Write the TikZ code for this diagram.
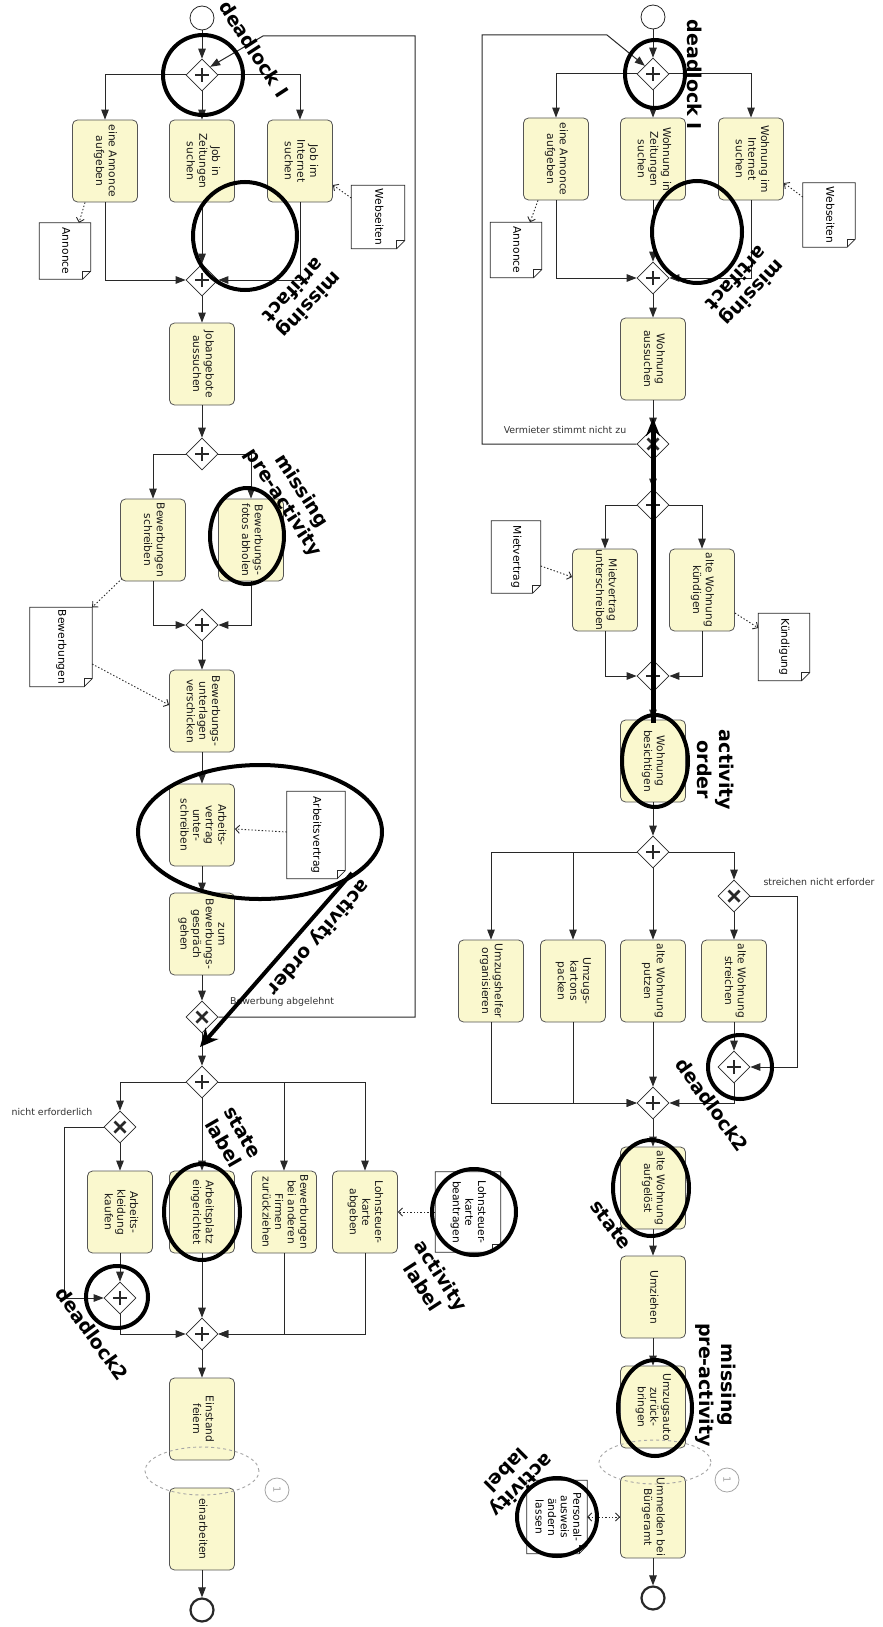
\documentclass[tikz,border=0pt]{standalone}
\usepackage{fontspec}
\setmainfont{DejaVu Sans}
\usetikzlibrary{shapes.geometric,arrows.meta,calc}
\definecolor{boxfill}{RGB}{250,248,206}
\definecolor{boxline}{RGB}{85,85,85}
\definecolor{flowc}{RGB}{40,40,40}
\definecolor{annog}{RGB}{165,165,165}
\newcommand\rt[1]{\rotatebox{-90}{\begin{tabular}{@{}c@{}}#1\end{tabular}}}
\newcommand\boxfont{\fontsize{10.7}{12.6}\selectfont}
\newcommand\docobj[6]{%
 \node[docn, minimum width=#4pt, minimum height=#5pt] (#1) at (#2,#3) {\rt{#6}};
 \draw[docl] (#1.north west) -- (#1.north east) -- ([yshift=8pt]#1.south east) -- ([xshift=-8pt]#1.south east) -- (#1.south west) -- cycle;
 \draw[docl] ([yshift=8pt]#1.south east) -- ([xshift=-8pt,yshift=8pt]#1.south east) -- ([xshift=-8pt]#1.south east);}
\begin{document}
\begin{tikzpicture}[x=1pt,y=-1pt,
 box/.style={draw=boxline, fill=boxfill, rounded corners=5pt, minimum width=65pt, minimum height=82pt, inner sep=0pt, line width=0.8pt, font=\boxfont, text=black!90},
 gw/.style={diamond, draw=flowc, fill=white, minimum width=32pt, minimum height=32pt, inner sep=0pt, line width=0.7pt},
 gwp/.style={gw, path picture={\draw[line width=2.2pt,flowc] ([xshift=-7pt]path picture bounding box.center) -- ([xshift=7pt]path picture bounding box.center) ([yshift=-7pt]path picture bounding box.center) -- ([yshift=7pt]path picture bounding box.center);}},
 gwx/.style={gw, path picture={\draw[line width=2.8pt,flowc] ([shift={(-5.5pt,-5.5pt)}]path picture bounding box.center) -- ([shift={(5.5pt,5.5pt)}]path picture bounding box.center) ([shift={(-5.5pt,5.5pt)}]path picture bounding box.center) -- ([shift={(5.5pt,-5.5pt)}]path picture bounding box.center);}},
 startn/.style={circle, draw=flowc, fill=white, line width=0.8pt, minimum size=24pt, inner sep=0pt},
 endn/.style={circle, draw=flowc, fill=white, line width=2.2pt, minimum size=23pt, inner sep=0pt},
 flow/.style={draw=flowc, line width=1pt, -{Triangle[length=10pt,width=7.5pt]}},
 assoc/.style={draw=flowc, line width=0.9pt, dash pattern=on 1.4pt off 2pt, -{Straight Barb[length=4pt,width=8pt]}},
 docn/.style={fill=white, inner sep=0pt, font=\boxfont},
 docl/.style={draw=flowc, line width=0.7pt},
 lbl/.style={font=\fontsize{9.4}{11}\selectfont, text=black!80, inner sep=0pt},
 hilite/.style={draw=black, line width=4pt},
 anno/.style={font=\fontsize{19}{22}\selectfont\bfseries, align=center, inner sep=0pt},
 grp/.style={draw=annog, dashed, line width=0.9pt},
 num/.style={circle, draw=annog, line width=0.8pt, minimum size=24pt, inner sep=0pt, text=annog, font=\fontsize{10}{12}\selectfont}
]
\useasboundingbox (0,0) rectangle (883,1627);
\fill[white] (0,0) rectangle (883,1627);

% ---------------- left process ----------------
\node[startn] (s1) at (202,18) {};
\node[gwp] (g1) at (202,75) {};
\node[box] (a1) at (105,161) {\rt{eine Annonce\\aufgeben}};
\node[box] (a2) at (202,161) {\rt{Job in\\Zeitungen\\suchen}};
\node[box] (a3) at (300,161) {\rt{Job im\\Internet\\suchen}};
\node[gwp] (g2) at (202,280) {};
\node[box] (a4) at (202,364) {\rt{Jobangebote\\aussuchen}};
\node[gwp] (g3) at (202,454) {};
\node[box] (a5) at (153,540) {\rt{Bewerbungen\\schreiben}};
\node[box] (a6) at (251,540) {\rt{Bewerbungs-\\fotos abholen}};
\node[gwp] (g4) at (202,625) {};
\node[box] (a7) at (202,711) {\rt{Bewerbungs-\\unterlagen\\verschicken}};
\node[box] (a8) at (202,825) {\rt{Arbeits-\\vertrag\\unter-\\schreiben}};
\node[box] (a9) at (202,934) {\rt{zum\\Bewerbungs-\\gespräch\\gehen}};
\node[gwx] (g5) at (202,1017) {};
\node[gwp] (g6) at (202,1082) {};
\node[gwx] (g7) at (120,1127) {};
\node[box] (a10) at (120,1212) {\rt{Arbeits-\\kleidung\\kaufen}};
\node[box] (a11) at (202,1212) {\rt{Arbeitsplatz\\eingerichtet}};
\node[box] (a12) at (284,1212) {\rt{Bewerbungen\\bei anderen\\Firmen\\zurückziehen}};
\node[box] (a13) at (365,1212) {\rt{Lohnsteuer-\\karte\\abgeben}};
\node[gwp] (g8) at (120,1298) {};
\node[gwp] (g9) at (202,1334) {};
\node[box] (a14) at (202,1419) {\rt{Einstand\\feiern}};
\node[box] (a15) at (202,1529) {\rt{einarbeiten}};
\node[endn] (e1) at (202,1610) {};

\docobj{dA1}{65}{251}{51}{56}{Annonce}
\docobj{dW1}{378}{217}{53}{63}{Webseiten}
\docobj{dB}{61}{647}{62}{79}{Bewerbungen}
\docobj{dAV}{316}{835}{58}{87}{Arbeitsvertrag}
\docobj{dL}{468}{1212}{65}{80}{Lohnsteuer-\\karte\\beantragen}

\draw[flow] (s1) -- (g1);
\draw[flow] (g1.west) -| (a1.north);
\draw[flow] (g1) -- (a2);
\draw[flow] (g1.east) -| (a3.north);
\draw[flow] (a1.south) |- (g2.west);
\draw[flow] (a2) -- (g2);
\draw[flow] (a3.south) |- (g2.east);
\draw[flow] (g2) -- (a4);
\draw[flow] (a4) -- (g3);
\draw[flow] (g3.west) -| (a5.north);
\draw[flow] (g3.east) -| (a6.north);
\draw[flow] (a5.south) |- (g4.west);
\draw[flow] (a6.south) |- (g4.east);
\draw[flow] (g4) -- (a7);
\draw[flow] (a7) -- (a8);
\draw[flow] (a8) -- (a9);
\draw[flow] (a9) -- (g5);
\draw[flow] (g5) -- (g6);
\coordinate (l1) at (415,1017);
\coordinate (l2) at (415,36);
\coordinate (l3) at (263,36);
\draw[flow] (g5.east) -- (l1) -- (l2) -- (l3) -- (g1.north east);
\node[lbl] (t1) at (282,1002) {Bewerbung abgelehnt};
\draw[flow] (g6.west) -| (g7.north);
\draw[flow] (g7) -- (a10);
\draw[flow] (a10) -- (g8);
\draw[flow] (g7.west) -- ++(-39,0) |- (g8.west);
\node[lbl] (t2) at (52,1112) {nicht erforderlich};
\draw[flow] (g6) -- (a11);
\draw[flow] (g6.east) -| (a12.north);
\draw[flow] (g6.east) -| (a13.north);
\draw[flow] (g8.south) |- (g9.west);
\draw[flow] (a11) -- (g9);
\draw[flow] (a12.south) |- (g9.east);
\draw[flow] (a13.south) |- (g9.east);
\draw[flow] (g9) -- (a14);
\draw[flow] (a15) -- (e1);

\draw[assoc] ([xshift=-20pt]a1.south) -- ([xshift=14pt]dA1.north);
\draw[assoc] ([yshift=19pt]dW1.west) -- ([yshift=-24pt]a3.east);
\draw[assoc] ([shift={(2pt,3pt)}]a5.south west) -- (dB.north east);
\draw[assoc] ([yshift=-17pt]dB.east) -- ([yshift=6pt]a7.west);
\draw[assoc] ([yshift=3pt]dAV.west) -- ([yshift=-4pt]a8.east);
\draw[assoc] (dL.west) -- (a13.east);

\draw[grp] (202,1471) ellipse [x radius=57pt, y radius=24pt];
\node[num] (n1) at (277,1490) {\rotatebox{-90}{1}};

% ---------------- right process ----------------
\node[startn] (s2) at (653,17) {};
\node[gwp] (h1) at (653,74) {};
\node[box] (b1) at (556,159) {\rt{eine Annonce\\aufgeben}};
\node[box] (b2) at (653,159) {\rt{Wohnung in\\Zeitungen\\suchen}};
\node[box] (b3) at (751,159) {\rt{Wohnung im\\Internet\\suchen}};
\node[gwp] (h2) at (653,278) {};
\node[box] (b4) at (653,359) {\rt{Wohnung\\aussuchen}};
\node[gwx] (h3) at (653,444) {};
\node[gwp] (h4) at (653,505) {};
\node[box] (b5) at (605,590) {\rt{Mietvertrag\\unterschreiben}};
\node[box] (b6) at (702,590) {\rt{alte Wohnung\\kündigen}};
\node[gwp] (h5) at (653,676) {};
\node[box] (b7) at (653,761) {\rt{Wohnung\\besichtigen}};
\node[gwp] (h6) at (653,852) {};
\node[gwx] (h7) at (734,896) {};
\node[box] (b8) at (491,981) {\rt{Umzugshelfer\\organisieren}};
\node[box] (b9) at (573,981) {\rt{Umzugs-\\kartons\\packen}};
\node[box] (b10) at (653,981) {\rt{alte Wohnung\\putzen}};
\node[box] (b11) at (734,981) {\rt{alte Wohnung\\streichen}};
\node[gwp] (h8) at (734,1067) {};
\node[gwp] (h9) at (653,1103) {};
\node[box] (b12) at (653,1188) {\rt{alte Wohnung\\aufgelöst}};
\node[box] (b13) at (653,1297) {\rt{Umziehen}};
\node[box] (b14) at (653,1407) {\rt{Umzugsauto\\zurück-\\bringen}};
\node[box] (b15) at (653,1517) {\rt{Ummelden bei\\Bürgeramt}};
\node[endn] (e2) at (653,1598) {};

\docobj{dA2}{516}{250}{51}{55}{Annonce}
\docobj{dW2}{829}{215}{52}{64}{Webseiten}
\docobj{dM}{516}{557}{49}{72}{Mietvertrag}
\docobj{dK}{784}{647}{51}{67}{Kündigung}
\docobj{dP}{557}{1517}{60}{73}{Personal-\\ausweis\\ändern\\lassen}

\draw[flow] (s2) -- (h1);
\draw[flow] (h1.west) -| (b1.north);
\draw[flow] (h1) -- (b2);
\draw[flow] (h1.east) -| (b3.north);
\draw[flow] (b1.south) |- (h2.west);
\draw[flow] (b2) -- (h2);
\draw[flow] (b3.south) |- (h2.east);
\draw[flow] (h2) -- (b4);
\draw[flow] (b4) -- (h3);
\draw[flow] (h3) -- (h4);
\coordinate (m1) at (482,444);
\coordinate (m2) at (482,35);
\coordinate (m3) at (607,35);
\draw[flow] (h3.west) -- (m1) -- (m2) -- (m3) -- (h1.north west);
\node[lbl] (t3) at (565,430) {Vermieter stimmt nicht zu};
\draw[flow] (h4.west) -| (b5.north);
\draw[flow] (h4.east) -| (b6.north);
\draw[flow] (b5.south) |- (h5.west);
\draw[flow] (b6.south) |- (h5.east);
\draw[flow] (h5) -- (b7);
\draw[flow] (b7) -- (h6);
\draw[flow] (h6.west) -| (b8.north);
\draw[flow] (h6.west) -| (b9.north);
\draw[flow] (h6) -- (b10);
\draw[flow] (h6.east) -| (h7.north);
\draw[flow] (h7) -- (b11);
\draw[flow] (b11) -- (h8);
\draw[flow] (h7.east) -- ++(47,0) |- (h8.east);
\node[lbl] (t4) at (819,882) {streichen nicht erforder};
\draw[flow] (h8.south) |- (h9.east);
\draw[flow] (b10) -- (h9);
\draw[flow] (b8.south) |- (h9.west);
\draw[flow] (b9.south) |- (h9.west);
\draw[flow] (h9) -- (b12);
\draw[flow] (b12) -- (b13);
\draw[flow] (b13) -- (b14);
\draw[flow] (b15) -- (e2);

\draw[assoc] ([xshift=-18pt]b1.south) -- ([xshift=14pt]dA2.north);
\draw[assoc] ([yshift=18pt]dW2.west) -- ([yshift=-24pt]b3.east);
\draw[assoc] ([yshift=-9pt]dM.east) -- ([yshift=13pt]b5.west);
\draw[assoc] ([yshift=-23pt]b6.east) -- ([yshift=19pt]dK.west);
\draw[assoc, {Straight Barb[length=4pt,width=8pt]}-{Straight Barb[length=4pt,width=8pt]}] (dP.east) -- (b15.west);

\draw[grp] (655,1462) ellipse [x radius=56pt, y radius=22pt];
\node[num] (n2) at (727,1480) {\rotatebox{-90}{1}};

% ---------------- annotations ----------------
\draw[hilite] (203,75) ellipse [x radius=40pt, y radius=40pt];
\draw[hilite] (245,236) ellipse [x radius=52pt, y radius=54pt];
\draw[hilite] (247,536) ellipse [x radius=37pt, y radius=48pt];
\draw[hilite] (260,832) ellipse [x radius=122pt, y radius=67pt];
\draw[hilite] (202,1212) ellipse [x radius=38pt, y radius=48pt];
\draw[hilite] (474,1212) ellipse [x radius=42pt, y radius=43pt];
\draw[hilite] (117,1297) ellipse [x radius=31pt, y radius=31pt];
\draw[hilite] (655,74) ellipse [x radius=30pt, y radius=34pt];
\draw[hilite] (697,232) ellipse [x radius=45pt, y radius=51pt];
\draw[hilite] (655,761) ellipse [x radius=33pt, y radius=46pt];
\draw[hilite] (740,1067) ellipse [x radius=32pt, y radius=32pt];
\draw[hilite] (651,1188) ellipse [x radius=38pt, y radius=48pt];
\draw[hilite] (655,1408) ellipse [x radius=37pt, y radius=48pt];
\draw[hilite] (557,1517) ellipse [x radius=40pt, y radius=39pt];

\coordinate (ta1) at (352,873);
\coordinate (ta2) at (200,1047);
\draw[line width=4pt, -{Stealth[length=18pt,width=17pt]}] (ta1) -- (ta2);
\coordinate (tb1) at (653,723);
\coordinate (tb2) at (653,418);
\draw[line width=5pt, -{Stealth[length=18pt,width=14pt]}] (tb1) -- (tb2);

\node[anno, rotate=-57] (k1) at (254,49) {deadlock I};
\node[anno, rotate=-133] (k2) at (302,298) {missing\\artifact};
\node[anno, rotate=-57] (k3) at (292,497) {missing\\pre-activity};
\node[anno, rotate=-131] (k4) at (318,937) {activity order};
\node[anno, rotate=-60] (k5) at (233,1138) {state\\label};
\node[anno, rotate=-57] (k6) at (432,1281) {activity\\label};
\node[anno, rotate=-54] (k7) at (92,1334) {deadlock2};
\node[anno, rotate=-90] (k8) at (695,75) {deadlock I};
\node[anno, rotate=-133] (k9) at (745,286) {missing\\artifact};
\node[anno, rotate=-90] (k10) at (716,770) {activity\\order};
\node[anno, rotate=-54] (k11) at (712,1105) {deadlock2};
\node[anno, rotate=-53] (k12) at (611,1225) {state};
\node[anno, rotate=-90] (k13) at (716,1385) {missing\\pre-activity};
\node[anno, rotate=-135] (k14) at (514,1478) {activity\\label};
\end{tikzpicture}
\end{document}
